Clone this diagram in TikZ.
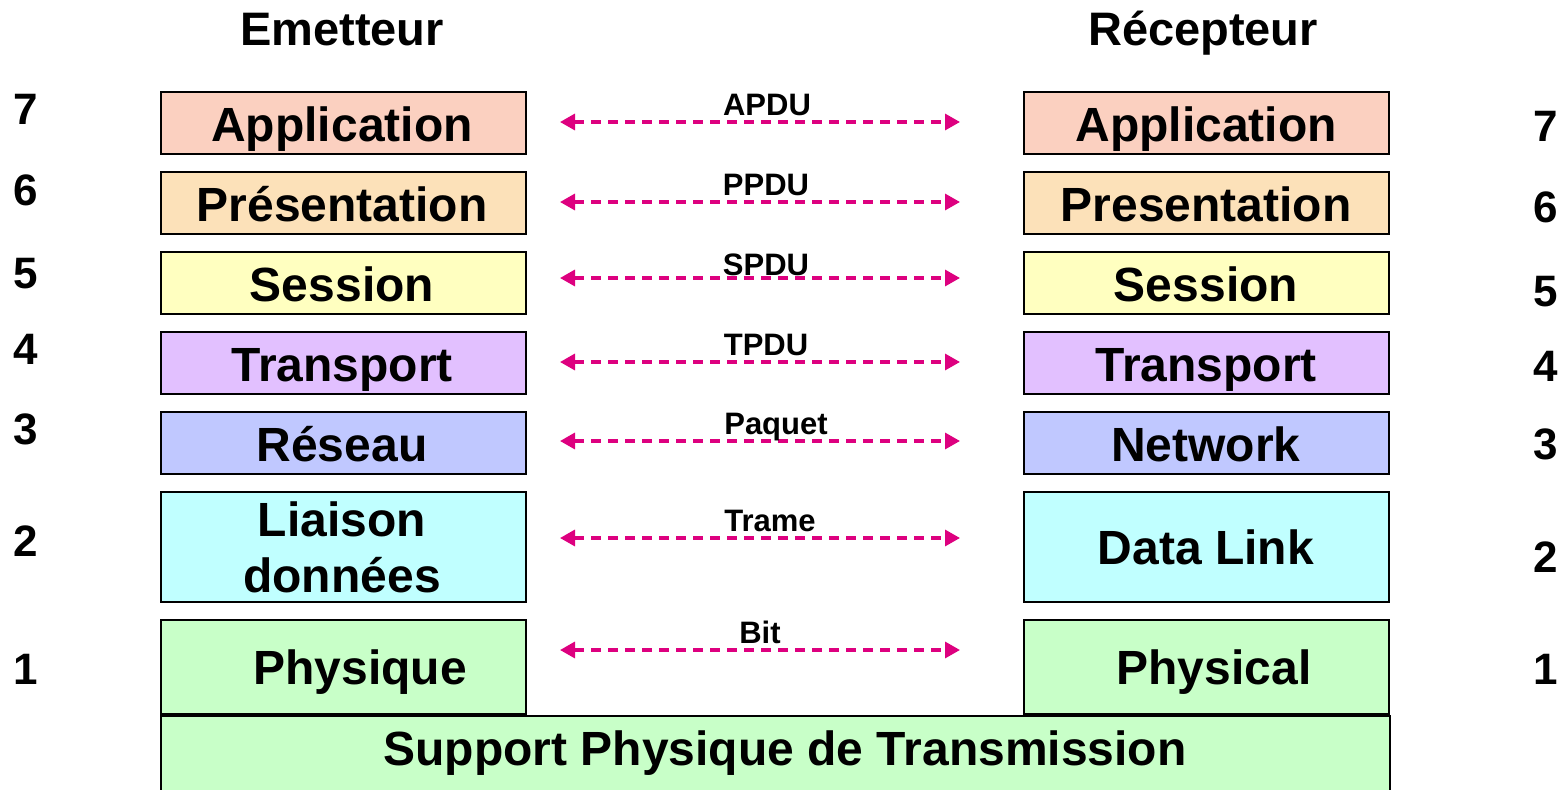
\documentclass[tikz,border=0pt]{standalone}
\usepackage{fontspec}
\setmainfont{Liberation Sans}
\usetikzlibrary{arrows.meta}
\definecolor{cApp}{RGB}{251,208,192}
\definecolor{cPres}{RGB}{252,225,185}
\definecolor{cSess}{RGB}{255,255,192}
\definecolor{cTrans}{RGB}{226,192,255}
\definecolor{cRes}{RGB}{192,200,255}
\definecolor{cLiai}{RGB}{192,255,255}
\definecolor{cPhys}{RGB}{200,255,200}
\definecolor{cArrow}{RGB}{221,0,127}
\tikzset{
  layerbox/.style={draw=black, line width=2pt, inner sep=0pt, anchor=north west, minimum width=365pt},
  boxtext/.style={anchor=base, inner sep=0pt, font=\fontsize{48}{52}\selectfont\bfseries},
  titletext/.style={anchor=base, inner sep=0pt, font=\fontsize{47}{50}\selectfont\bfseries},
  numtext/.style={anchor=base, inner sep=0pt, font=\fontsize{44}{48}\selectfont\bfseries},
  pdutext/.style={anchor=base, inner sep=0pt, font=\fontsize{31}{34}\selectfont\bfseries},
  pdu/.style={draw=cArrow, line width=3.3pt, dash pattern=on 10pt off 7pt,
     {Triangle[length=15pt,width=16pt]}-{Triangle[length=15pt,width=16pt]}}
}
\begin{document}
\begin{tikzpicture}[x=1pt,y=-1pt]
\useasboundingbox (0,0) rectangle (1567,790);
% titles
\node[titletext] (tE) at (342,45) {Emetteur};
\node[titletext] (tR) at (1203,45) {Récepteur};
% left boxes
\node[layerbox, fill=cApp,  minimum height=62pt] (L7) at (160,91) {};
\node[layerbox, fill=cPres, minimum height=62pt] (L6) at (160,171) {};
\node[layerbox, fill=cSess, minimum height=62pt] (L5) at (160,251) {};
\node[layerbox, fill=cTrans,minimum height=62pt] (L4) at (160,331) {};
\node[layerbox, fill=cRes,  minimum height=62pt] (L3) at (160,411) {};
\node[layerbox, fill=cLiai, minimum height=110pt] (L2) at (160,491) {};
\node[layerbox, fill=cPhys, minimum height=94pt] (L1) at (160,619) {};
% right boxes
\node[layerbox, fill=cApp,  minimum height=62pt] (R7) at (1023,91) {};
\node[layerbox, fill=cPres, minimum height=62pt] (R6) at (1023,171) {};
\node[layerbox, fill=cSess, minimum height=62pt] (R5) at (1023,251) {};
\node[layerbox, fill=cTrans,minimum height=62pt] (R4) at (1023,331) {};
\node[layerbox, fill=cRes,  minimum height=62pt] (R3) at (1023,411) {};
\node[layerbox, fill=cLiai, minimum height=110pt] (R2) at (1023,491) {};
\node[layerbox, fill=cPhys, minimum height=94pt] (R1) at (1023,619) {};
% support
\node[layerbox, fill=cPhys, minimum width=1229pt, minimum height=90pt] (S) at (160,715) {};
% box texts
\node[boxtext] (tL7) at (342,141) {Application};
\node[boxtext] (tL6) at (342,221) {Présentation};
\node[boxtext] (tL5) at (342,301) {Session};
\node[boxtext] (tL4) at (342,381) {Transport};
\node[boxtext] (tL3) at (342,461) {Réseau};
\node[boxtext] (tL2a) at (342,536) {Liaison};
\node[boxtext] (tL2b) at (342,592) {données};
\node[boxtext] (tL1) at (360,684) {Physique};
\node[boxtext] (tR7) at (1206,141) {Application};
\node[boxtext] (tR6) at (1206,221) {Presentation};
\node[boxtext] (tR5) at (1206,301) {Session};
\node[boxtext] (tR4) at (1206,381) {Transport};
\node[boxtext] (tR3) at (1206,461) {Network};
\node[boxtext] (tR2) at (1206,564) {Data Link};
\node[boxtext] (tR1) at (1214,684) {Physical};
\node[boxtext] (tS) at (785,765) {Support Physique de Transmission};
% numbers
\node[numtext] (n7l) at (26,124) {7};
\node[numtext] (n6l) at (26,205) {6};
\node[numtext] (n5l) at (26,288) {5};
\node[numtext] (n4l) at (26,364) {4};
\node[numtext] (n3l) at (26,444) {3};
\node[numtext] (n2l) at (26,556) {2};
\node[numtext] (n1l) at (26,684) {1};
\node[numtext] (n7r) at (1546,141) {7};
\node[numtext] (n6r) at (1546,222) {6};
\node[numtext] (n5r) at (1546,306) {5};
\node[numtext] (n4r) at (1546,381) {4};
\node[numtext] (n3r) at (1546,459) {3};
\node[numtext] (n2r) at (1546,572) {2};
\node[numtext] (n1r) at (1546,684) {1};
% arrow end points
\coordinate (a7) at (560,122); \coordinate (b7) at (960,122);
\coordinate (a6) at (560,202); \coordinate (b6) at (960,202);
\coordinate (a5) at (560,278); \coordinate (b5) at (960,278);
\coordinate (a4) at (560,362); \coordinate (b4) at (960,362);
\coordinate (a3) at (560,441); \coordinate (b3) at (960,441);
\coordinate (a2) at (560,538); \coordinate (b2) at (960,538);
\coordinate (a1) at (560,650); \coordinate (b1) at (960,650);
\draw[pdu] (a7) -- (b7);
\draw[pdu] (a6) -- (b6);
\draw[pdu] (a5) -- (b5);
\draw[pdu] (a4) -- (b4);
\draw[pdu] (a3) -- (b3);
\draw[pdu] (a2) -- (b2);
\draw[pdu] (a1) -- (b1);
% pdu labels
\node[pdutext] (p7) at (767,115) {APDU};
\node[pdutext] (p6) at (766,195) {PPDU};
\node[pdutext] (p5) at (766,275) {SPDU};
\node[pdutext] (p4) at (766,355) {TPDU};
\node[pdutext] (p3) at (776,434) {Paquet};
\node[pdutext] (p2) at (770,531) {Trame};
\node[pdutext] (p1) at (760,643) {Bit};
\end{tikzpicture}
\end{document}
